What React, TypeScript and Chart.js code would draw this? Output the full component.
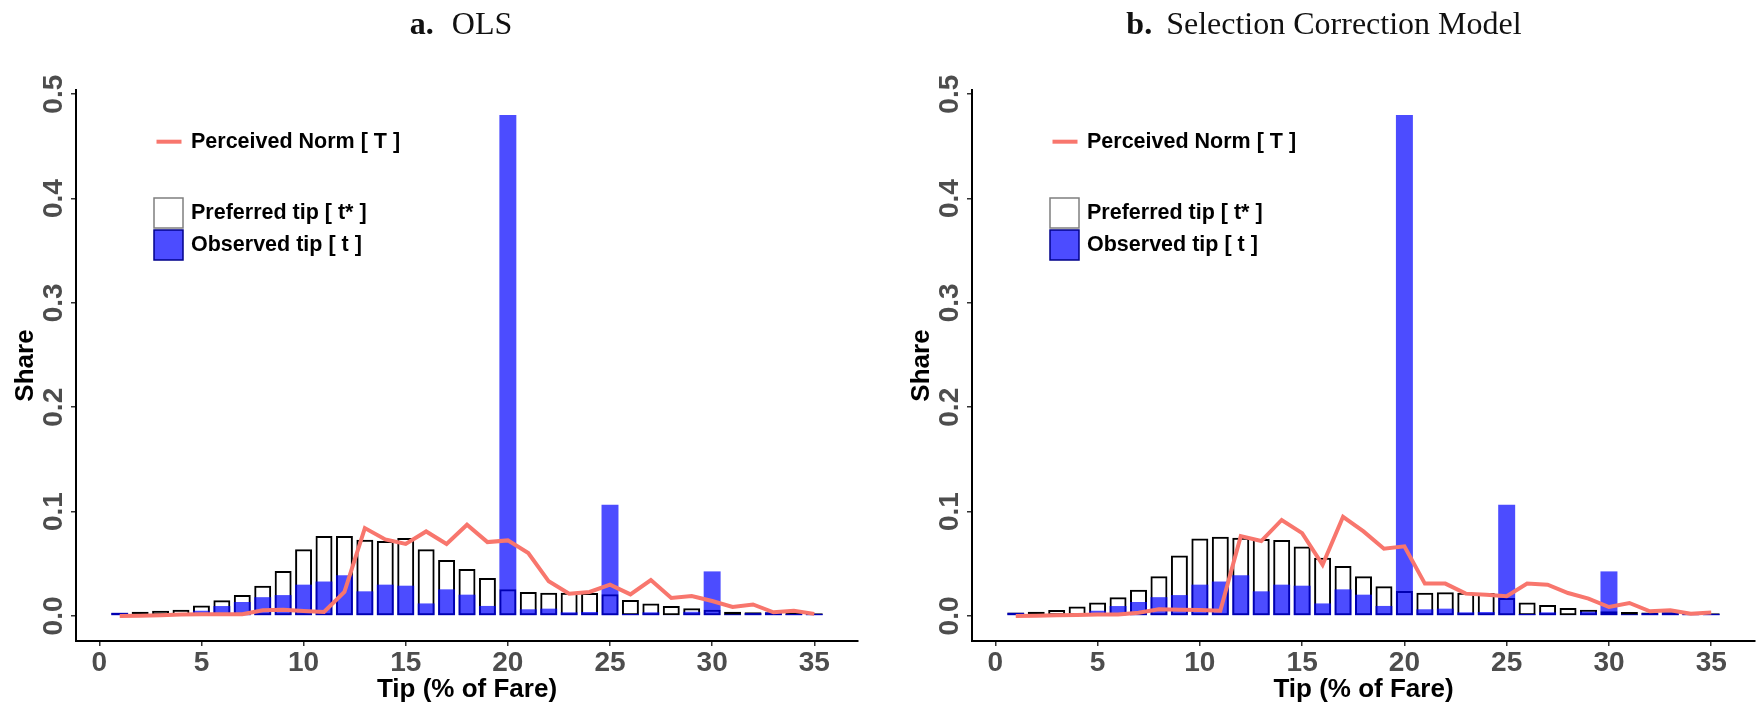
import React, { useEffect, useRef } from "react";
import { Chart, registerables } from "chart.js";

Chart.register(...registerables);

// ---------------- data ----------------
const tipPercent = [
  1, 2, 3, 4, 5, 6, 7, 8, 9, 10, 11, 12, 13, 14, 15, 16, 17, 18, 19, 20,
  21, 22, 23, 24, 25, 26, 27, 28, 29, 30, 31, 32, 33, 34, 35,
];

const observedTip = [
  0.003, 0.001, 0.001, 0.002, 0.005, 0.0095, 0.0134, 0.018, 0.02, 0.03,
  0.033, 0.039, 0.0236, 0.03, 0.029, 0.012, 0.0255, 0.0204, 0.0096, 0.48,
  0.0064, 0.007, 0.0035, 0.0038, 0.1065, 0.002, 0.0035, 0.0006, 0.004, 0.0427,
  0.0016, 0.0027, 0.0035, 0.002, 0.002,
];

const preferredOLS = [
  0.003, 0.004, 0.005, 0.006, 0.01, 0.015, 0.02, 0.029, 0.043, 0.064,
  0.0765, 0.0765, 0.073, 0.0718, 0.0746, 0.064, 0.0536, 0.045, 0.0364, 0.0255,
  0.023, 0.0223, 0.0223, 0.022, 0.0207, 0.0153, 0.012, 0.0096, 0.0073, 0.006,
  0.004, 0.0035, 0.0035, 0.003, 0.0025,
];

const normOLS = [
  0.0, 0.0003, 0.0006, 0.0013, 0.0016, 0.0016, 0.0016, 0.0054, 0.006, 0.0048,
  0.0038, 0.023, 0.0842, 0.0733, 0.069, 0.081, 0.069, 0.0874, 0.0708, 0.0724,
  0.0603, 0.0332, 0.0214, 0.023, 0.03, 0.0207, 0.0344, 0.0172, 0.0191, 0.0143,
  0.0086, 0.011, 0.0035, 0.005, 0.002,
];

const preferredSCM = [
  0.0032, 0.004, 0.0057, 0.009, 0.0128, 0.018, 0.025, 0.038, 0.058, 0.0743,
  0.0759, 0.075, 0.0737, 0.0727, 0.0666, 0.0558, 0.0478, 0.038, 0.0284, 0.024,
  0.0223, 0.0226, 0.0223, 0.022, 0.0172, 0.0128, 0.0105, 0.0077, 0.006, 0.0045,
  0.0038, 0.0032, 0.0035, 0.003, 0.0025,
];

const normSCM = [
  0.0, 0.0003, 0.0006, 0.001, 0.0013, 0.0013, 0.003, 0.0064, 0.006, 0.0057,
  0.005, 0.0765, 0.0718, 0.092, 0.0794, 0.049, 0.095, 0.081, 0.0644, 0.0667,
  0.031, 0.031, 0.0214, 0.0204, 0.019, 0.031, 0.03, 0.022, 0.0166, 0.0086,
  0.0124, 0.0045, 0.0054, 0.0022, 0.0032,
];

const xTickValues = [0, 5, 10, 15, 20, 25, 30, 35];
const yTickValues = [0, 0.1, 0.2, 0.3, 0.4, 0.5];
const xAxisTitle = "Tip (% of Fare)";
const yAxisTitle = "Share";
const legendLine = "Perceived Norm [ T ]";
const legendPreferred = "Preferred tip [ t* ]";
const legendObserved = "Observed tip [ t ]";

// ---------------- layout ----------------
const H = 707;
const HALF = 879;
const PLOT_TOP = 90;
const PLOT_BOTTOM = 641;

const SANS = '"Liberation Sans", Arial, Helvetica, sans-serif';
const SERIF = '"Liberation Serif", "Times New Roman", serif';
const NORM_COLOR = "#F8766D";
const OBS_FILL = "rgba(0,0,255,0.7)";

type PanelProps = {
  left: number;
  plotLeft: number;
  plotRight: number;
  preferred: number[];
  norm: number[];
  titleBold: string;
  titleRest: string;
  titleCenter: number;
  titleGap: number;
};

function Panel(p: PanelProps) {
  const ref = useRef<HTMLCanvasElement | null>(null);

  useEffect(() => {
    const canvas = ref.current;
    if (!canvas) return;

    const textPlugin = {
      id: "panelText",
      afterDraw(chart: any) {
        const ctx: CanvasRenderingContext2D = chart.ctx;
        const xs = chart.scales.x;
        const ys = chart.scales.y;
        const a = chart.chartArea;
        ctx.save();

        // y tick labels (rotated)
        ctx.font = `bold 28px ${SANS}`;
        ctx.fillStyle = "#4D4D4D";
        ctx.textAlign = "center";
        ctx.textBaseline = "middle";
        for (const v of yTickValues) {
          const py = ys.getPixelForValue(v);
          ctx.save();
          ctx.translate(a.left - 22, py);
          ctx.rotate(-Math.PI / 2);
          ctx.fillText(v.toFixed(1), 0, 0);
          ctx.restore();
        }
        // x tick labels
        for (const v of xTickValues) {
          ctx.fillText(String(v), xs.getPixelForValue(v), 663);
        }

        // axis titles
        ctx.fillStyle = "#000";
        ctx.font = `bold 26px ${SANS}`;
        ctx.fillText(xAxisTitle, (a.left + a.right) / 2, 690);
        ctx.save();
        ctx.translate(a.left - 50, (a.top + a.bottom) / 2);
        ctx.rotate(-Math.PI / 2);
        ctx.fillText(yAxisTitle, 0, 0);
        ctx.restore();

        // panel title
        ctx.textBaseline = "alphabetic";
        ctx.textAlign = "left";
        ctx.font = `bold 32px ${SERIF}`;
        const wb = ctx.measureText(p.titleBold).width;
        ctx.font = `32px ${SERIF}`;
        const wr = ctx.measureText(p.titleRest).width;
        const gap = p.titleGap;
        const startX = p.titleCenter - (wb + gap + wr) / 2;
        ctx.font = `bold 32px ${SERIF}`;
        ctx.fillStyle = "#111";
        ctx.fillText(p.titleBold, startX, 34);
        ctx.font = `32px ${SERIF}`;
        ctx.fillText(p.titleRest, startX + wb + gap, 34);

        // legend
        const lx = a.left;
        ctx.strokeStyle = NORM_COLOR;
        ctx.lineWidth = 4;
        ctx.beginPath();
        ctx.moveTo(lx + 80.5, 141.7);
        ctx.lineTo(lx + 105.5, 141.7);
        ctx.stroke();

        ctx.fillStyle = "#fff";
        ctx.fillRect(lx + 78, 198, 29, 30);
        ctx.strokeStyle = "#7F7F7F";
        ctx.lineWidth = 1.5;
        ctx.strokeRect(lx + 78, 198, 29, 30);
        ctx.fillStyle = OBS_FILL;
        ctx.fillRect(lx + 78, 230, 29, 30);
        ctx.strokeStyle = "#00008B";
        ctx.strokeRect(lx + 78, 230, 29, 30);

        ctx.fillStyle = "#000";
        ctx.font = `bold 21.5px ${SANS}`;
        ctx.textBaseline = "middle";
        ctx.fillText(legendLine, lx + 115, 142);
        ctx.fillText(legendPreferred, lx + 115, 213);
        ctx.fillText(legendObserved, lx + 115, 245);

        ctx.restore();
      },
    };

    const chart = new Chart(canvas, {
      type: "bar",
      data: {
        datasets: [
          {
            type: "line",
            label: legendLine,
            data: tipPercent.map((x, i) => ({ x, y: p.norm[i] })),
            borderColor: NORM_COLOR,
            borderWidth: 4,
            pointRadius: 0,
            tension: 0,
            order: 0,
          } as any,
          {
            type: "bar",
            label: legendObserved,
            data: tipPercent.map((x, i) => ({ x, y: observedTip[i] })),
            backgroundColor: OBS_FILL,
            borderWidth: 0,
            grouped: false,
            categoryPercentage: 1,
            barPercentage: 0.83,
            order: 1,
          } as any,
          {
            type: "bar",
            label: legendPreferred,
            data: tipPercent.map((x, i) => ({ x, y: p.preferred[i] })),
            backgroundColor: "rgba(0,0,0,0)",
            borderColor: "#000",
            borderWidth: 2,
            borderSkipped: false,
            grouped: false,
            categoryPercentage: 1,
            barPercentage: 0.83,
            order: 2,
          } as any,
        ],
      },
      options: {
        responsive: false,
        animation: false,
        devicePixelRatio: 1,
        layout: {
          padding: { left: 0, top: PLOT_TOP, right: HALF - p.plotRight, bottom: 0 },
        },
        plugins: {
          legend: { display: false },
          tooltip: { enabled: false },
          title: { display: false },
        },
        scales: {
          x: {
            type: "linear",
            min: -1.14,
            max: 37.14,
            offset: false,
            afterFit: (s: any) => {
              s.height = H - PLOT_BOTTOM;
            },
            grid: {
              display: true,
              drawOnChartArea: false,
              drawTicks: true,
              tickLength: 5,
              tickColor: "#333333",
              lineWidth: 1.5,
              offset: false,
            },
            border: { display: true, color: "#000", width: 2 },
            ticks: {
              stepSize: 5,
              includeBounds: false,
              color: "rgba(0,0,0,0)",
              font: { size: 12 },
              maxRotation: 0,
              autoSkip: false,
            },
          },
          y: {
            type: "linear",
            min: -0.024,
            max: 0.504,
            afterFit: (s: any) => {
              s.width = p.plotLeft;
            },
            grid: {
              display: true,
              drawOnChartArea: false,
              drawTicks: true,
              tickLength: 5,
              tickColor: "#333333",
              lineWidth: 1.5,
            },
            border: { display: true, color: "#000", width: 2 },
            ticks: {
              stepSize: 0.1,
              includeBounds: false,
              color: "rgba(0,0,0,0)",
              font: { size: 10 },
            },
          },
        },
      },
      plugins: [textPlugin],
    } as any);

    return () => chart.destroy();
  }, []);

  return (
    <canvas
      ref={ref}
      width={HALF}
      height={H}
      style={{ position: "absolute", left: p.left, top: 0, width: HALF, height: H }}
    />
  );
}

export default function App() {
  return (
    <div
      style={{
        position: "absolute",
        left: 0,
        top: 0,
        width: 1758,
        height: H,
        background: "#fff",
        overflow: "hidden",
      }}
    >
      <Panel
        left={0}
        plotLeft={76}
        plotRight={858}
        preferred={preferredOLS}
        norm={normOLS}
        titleBold="a."
        titleRest="OLS"
        titleCenter={461}
        titleGap={18}
      />
      <Panel
        left={HALF}
        plotLeft={93}
        plotRight={876}
        preferred={preferredSCM}
        norm={normSCM}
        titleBold="b."
        titleRest="Selection Correction Model"
        titleCenter={1324 - HALF}
        titleGap={14}
      />
    </div>
  );
}
